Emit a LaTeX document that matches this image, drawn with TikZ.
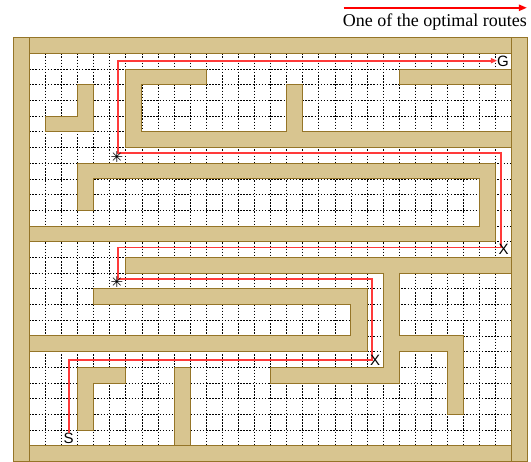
\documentclass[tikz,border=0pt]{standalone}
\usepackage{fontspec}
\setmainfont{Liberation Serif}
\newfontfamily\labelsans{Liberation Sans}
\newfontfamily\symfont{DejaVu Sans}
\usetikzlibrary{arrows.meta}

\definecolor{walltan}{HTML}{D8C590}
\definecolor{wallline}{HTML}{957528}
\definecolor{routered}{HTML}{FF3A3A}

\begin{document}
\begin{tikzpicture}[x=16.08pt,y=-15.7pt,
  wall/.style={fill=walltan, draw=wallline, line width=0.9pt},
  gridline/.style={draw=black, line width=0.65pt, dash pattern=on 1.5pt off 1.6pt},
  route/.style={draw=routered, line width=1.9pt},
  lbl/.style={font=\labelsans\fontsize{15}{15}\selectfont, inner sep=0pt},
  xmark/.style={font=\labelsans\fontsize{15}{15}\selectfont, inner sep=0pt},
  amark/.style={font=\symfont\fontsize{15}{15}\selectfont, inner sep=0pt}]
\useasboundingbox (-1.822,-3.395) rectangle (31.2,26.03);

% grid
\foreach \i in {1,...,29} \draw[gridline] (\i,0) -- (\i,25);
\foreach \j in {1,...,24} \draw[gridline] (0,\j) -- (30,\j);

% outer frame
\path[wall] (-1,-1) rectangle (0,26);
\path[wall] (30,-1) rectangle (31,26);
\path[wall] (0,-1) rectangle (30,0);
\path[wall] (0,25) rectangle (30,26);

% inner walls
\path[wall] (3,2) -- (4,2) -- (4,5) -- (1,5) -- (1,4) -- (3,4) -- cycle;
\path[wall] (6,1) -- (11,1) -- (11,2) -- (7,2) -- (7,5) -- (16,5) -- (16,2) -- (17,2) -- (17,5) -- (30,5) -- (30,6) -- (6,6) -- cycle;
\path[wall] (23,1) rectangle (30,2);
\path[wall] (3,7) -- (29,7) -- (29,12) -- (0,12) -- (0,11) -- (28,11) -- (28,8) -- (4,8) -- (4,10) -- (3,10) -- cycle;
\path[wall] (6,13) -- (30,13) -- (30,14) -- (23,14) -- (23,18) -- (27,18) -- (27,23) -- (26,23) -- (26,19) -- (23,19) -- (23,21) -- (15,21) -- (15,20) -- (22,20) -- (22,14) -- (6,14) -- cycle;
\path[wall] (4,15) -- (21,15) -- (21,19) -- (0,19) -- (0,18) -- (20,18) -- (20,16) -- (4,16) -- cycle;
\path[wall] (3,20) -- (6,20) -- (6,21) -- (4,21) -- (4,24) -- (3,24) -- cycle;
\path[wall] (9,20) rectangle (10,25);

% route
\coordinate (r1) at (2.45,19.55);
\coordinate (r2) at (21.3,19.55);
\coordinate (r3) at (21.3,14.37);
\coordinate (r4) at (5.5,14.37);
\coordinate (r5) at (5.5,12.37);
\coordinate (r6) at (29.35,12.37);
\coordinate (r7) at (29.35,6.37);
\coordinate (r8) at (5.5,6.37);
\coordinate (r9) at (5.5,0.47);

\node[lbl] (S) at (2.45,24.55) {S};
\node[lbl] (G) at (29.46,0.48) {G};
\draw[route, -{Triangle[length=6pt,width=5pt]}] (S.north) -- (r1) -- (r2) -- (r3) -- (r4) -- (r5) -- (r6) -- (r7) -- (r8) -- (r9) -- (G.west |- r9);

% route markers
\node[xmark] (X1) at (21.5,19.55) {X};
\node[xmark] (X2) at (29.5,12.5) {X};
\node[amark] (A1) at (5.45,14.6) {✳};
\node[amark] (A2) at (5.45,6.6) {✳};

% legend
\node[anchor=base east, font=\fontsize{18}{18}\selectfont, inner sep=0pt] (legend) at (30.95,-1.72) {One of the optimal routes};
\coordinate (la) at (19.55,-2.9);
\coordinate (lb) at (30.95,-2.9);
\draw[red, line width=2.4pt, -{Triangle[length=8pt,width=6pt]}] (la) -- (lb);
\end{tikzpicture}
\end{document}
